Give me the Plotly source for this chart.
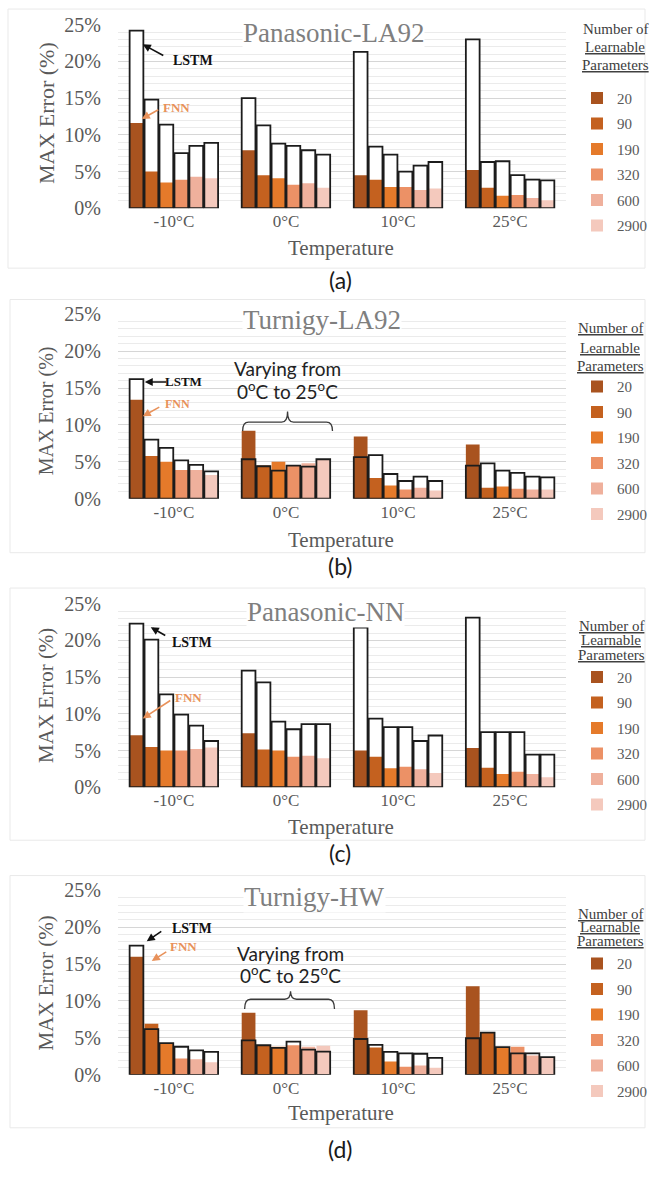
import plotly.graph_objects as go

# ---------------------------------------------------------------------------
# Data: MAX error (%) per ambient temperature (rows) and model size (columns)
# ---------------------------------------------------------------------------
TEMPERATURES = ["-10°C", "0°C", "10°C", "25°C"]
PARAM_COUNTS = ["20", "90", "190", "320", "600", "2900"]
PARAM_COLORS = ["#A9531F", "#C4611F", "#E57A2A", "#EC9166", "#EFB09C", "#F4C9BD"]
Y_TICKS = [0, 5, 10, 15, 20, 25]

PANASONIC_LA92_LSTM = [
    [24.2, 14.8, 11.4, 7.5, 8.5, 8.9],
    [15.0, 11.3, 8.8, 8.5, 7.9, 7.3],
    [21.3, 8.4, 7.3, 5.0, 5.8, 6.3],
    [23.0, 6.3, 6.4, 4.5, 3.9, 3.8],
]
PANASONIC_LA92_FNN = [
    [11.6, 5.0, 3.5, 3.9, 4.3, 4.1],
    [7.9, 4.5, 4.1, 3.2, 3.4, 2.8],
    [4.5, 3.9, 2.9, 2.9, 2.5, 2.7],
    [5.2, 2.8, 1.7, 1.8, 1.4, 1.1],
]

TURNIGY_LA92_LSTM = [
    [16.2, 8.0, 6.9, 5.2, 4.6, 3.7],
    [5.35, 4.4, 3.8, 4.5, 4.35, 5.35],
    [5.65, 5.9, 3.35, 2.4, 3.0, 2.4],
    [4.5, 4.8, 3.8, 3.5, 3.0, 2.9],
]
TURNIGY_LA92_FNN = [
    [13.4, 5.8, 5.0, 3.9, 3.9, 3.2],
    [9.2, 4.5, 5.0, 4.45, 4.8, 5.3],
    [8.45, 2.8, 1.8, 1.25, 1.5, 1.1],
    [7.35, 1.5, 1.65, 1.35, 1.25, 1.25],
]

PANASONIC_NN_LSTM = [
    [22.3, 20.1, 12.65, 9.9, 8.4, 6.3],
    [15.9, 14.3, 8.95, 7.9, 8.6, 8.6],
    [21.75, 9.35, 8.2, 8.2, 6.3, 7.05],
    [23.1, 7.5, 7.5, 7.5, 4.45, 4.45],
]
PANASONIC_NN_FNN = [
    [7.1, 5.5, 5.0, 5.0, 5.2, 5.4],
    [7.35, 5.15, 5.0, 4.15, 4.3, 3.95],
    [5.0, 4.15, 2.6, 2.8, 2.45, 1.95],
    [5.35, 2.65, 1.8, 2.1, 1.8, 1.35],
]

TURNIGY_HW_LSTM = [
    [17.5, 6.2, 4.3, 3.8, 3.3, 3.1],
    [4.65, 4.0, 3.65, 4.5, 3.4, 3.15],
    [4.85, 4.05, 3.1, 2.9, 2.85, 2.3],
    [4.95, 5.7, 3.75, 2.9, 2.9, 2.4],
]
TURNIGY_HW_FNN = [
    [16.0, 6.9, 4.3, 2.2, 2.1, 1.7],
    [8.4, 4.0, 3.8, 4.0, 3.8, 3.95],
    [8.75, 3.7, 1.8, 1.1, 1.25, 0.95],
    [12.0, 5.8, 3.7, 3.8, 2.6, 2.4],
]

PANEL_TITLES = ["Panasonic-LA92", "Turnigy-LA92", "Panasonic-NN", "Turnigy-HW"]
PANEL_TAGS = ["(a)", "(b)", "(c)", "(d)"]

# ---------------------------------------------------------------------------
# Layout helpers (pixel positions -> paper coordinates)
# ---------------------------------------------------------------------------
W, H = 652, 1180
SERIF = "Liberation Serif"
SANS = "Lato"
TICK_GRAY = "#595959"
TITLE_GRAY = "#7F7F7F"


def px(x):
    return x / W


def py(y):
    return 1 - y / H


def label(text, x, y, size, color, family=SERIF, **kw):
    return dict(text=text, x=px(x), y=py(y), xref="paper", yref="paper", showarrow=False,
                xanchor="center", yanchor="middle",
                font=dict(family=family, size=size, color=color), **kw)


def arrow(tail, head, color):
    (tx, ty), (hx, hy) = tail, head
    return dict(text="", x=px(hx), y=py(hy), xref="paper", yref="paper",
                ax=tx - hx, ay=ty - hy, showarrow=True, arrowhead=2,
                arrowsize=1, arrowwidth=1.6, arrowcolor=color)


PLOT_LEFT, PLOT_RIGHT = 118, 567

panels = [
    dict(title=PANEL_TITLES[0], tag=PANEL_TAGS[0], lstm=PANASONIC_LA92_LSTM, fnn=PANASONIC_LA92_FNN,
         y0=201, y25=14, title_xy=(334, 22), ytitle_y=104, ytitle_size=22, xtitle_y=241, tag_y=274,
         legend_title=["Number of", "<u>Learnable</u>", "<u>Parameters</u>"], legend_title_y=[18, 37, 55],
         legend_top=90, legend_title_x=616,
         lstm_label=(193, 50, 14), lstm_arrow=((165, 46), (143, 34)),
         fnn_label=(177, 98, 13), fnn_arrow=((160, 100), (142, 110)),
         frame=(8, -2, 646, 262), varying=None),
    dict(title=PANEL_TITLES[1], tag=PANEL_TAGS[1], lstm=TURNIGY_LA92_LSTM, fnn=TURNIGY_LA92_FNN,
         y0=497, y25=309, title_xy=(322, 315), ytitle_y=407, ytitle_size=20, xtitle_y=539, tag_y=566,
         legend_title=["<u>Number of</u>", "<u>Learnable</u>", "<u>Parameters</u>"], legend_title_y=[323, 343, 362],
         legend_top=384, legend_title_x=611,
         lstm_label=(184, 378, 13), lstm_arrow=((168, 378), (145, 378)),
         fnn_label=(178, 400, 12), fnn_arrow=((161, 403), (143, 413)),
         frame=(10, 294, 646, 552),
         varying=dict(text_y=(364, 387), cx=288, left=243, right=333, bar_y=419, tip_y=408, end_y=428)),
    dict(title=PANEL_TITLES[2], tag=PANEL_TAGS[2], lstm=PANASONIC_NN_LSTM, fnn=PANASONIC_NN_FNN,
         y0=791, y25=604, title_xy=(326, 612), ytitle_y=697, ytitle_size=21, xtitle_y=831, tag_y=858,
         legend_title=["<u>Number of</u>", "<u>Learnable</u>", "<u>Parameters</u>"], legend_title_y=[627, 641, 656],
         legend_top=680, legend_title_x=612,
         lstm_label=(192, 643, 14), lstm_arrow=((167, 637), (151, 628)),
         fnn_label=(189, 700, 13), fnn_arrow=((172, 702), (143, 721)),
         frame=(10, 588, 646, 845), varying=None),
    dict(title=PANEL_TITLES[3], tag=PANEL_TAGS[3], lstm=TURNIGY_HW_LSTM, fnn=TURNIGY_HW_FNN,
         y0=1084, y25=896, title_xy=(315, 903), ytitle_y=990, ytitle_size=21, xtitle_y=1123, tag_y=1160,
         legend_title=["<u>Number of</u>", "<u>Learnable</u>", "<u>Parameters</u>"], legend_title_y=[920, 933, 948],
         legend_top=972, legend_title_x=611,
         lstm_label=(192, 935, 14), lstm_arrow=((163, 937), (147, 948)),
         fnn_label=(184, 953, 13), fnn_arrow=((168, 958), (152, 968)),
         frame=(10, 881, 646, 1138),
         varying=dict(text_y=(960, 982), cx=291, left=245, right=335, bar_y=1007, tip_y=999, end_y=1017)),
]

fig = go.Figure()
annotations = []
shapes = []

for k, pnl in enumerate(panels):
    sfx = "" if k == 0 else str(k + 1)
    xa, ya = "x" + sfx, "y" + sfx
    legend_id = "legend" + sfx

    # grouped bars: white LSTM background, FNN fill, LSTM outline on top
    for j, count in enumerate(PARAM_COUNTS):
        lstm_vals = [row[j] for row in pnl["lstm"]]
        fnn_vals = [row[j] for row in pnl["fnn"]]
        fig.add_trace(go.Bar(
            x=TEMPERATURES, y=lstm_vals, xaxis=xa, yaxis=ya, offsetgroup=str(j),
            marker=dict(color="white", line=dict(width=0)), showlegend=False, hoverinfo="skip"))
        fig.add_trace(go.Bar(
            x=TEMPERATURES, y=fnn_vals, xaxis=xa, yaxis=ya, offsetgroup=str(j),
            marker=dict(color=PARAM_COLORS[j], line=dict(width=0)), name=count,
            legend=legend_id, legendgroup=f"{k}-{count}", showlegend=True,
            hovertemplate="FNN %{x}: %{y}%<extra>" + count + "</extra>"))
        fig.add_trace(go.Bar(
            x=TEMPERATURES, y=lstm_vals, xaxis=xa, yaxis=ya, offsetgroup=str(j),
            marker=dict(color="rgba(0,0,0,0)", line=dict(color="#1c1c1c", width=1.8)),
            showlegend=False, legendgroup=f"{k}-{count}",
            hovertemplate="LSTM %{x}: %{y}%<extra>" + count + "</extra>"))

    fig.update_layout(**{
        "xaxis" + sfx: dict(
            domain=[px(PLOT_LEFT), px(PLOT_RIGHT)], anchor=ya, showgrid=False, zeroline=False,
            showline=False, ticks="", ticklabelstandoff=1, fixedrange=True,
            tickfont=dict(family=SERIF, size=17, color=TICK_GRAY)),
        "yaxis" + sfx: dict(
            domain=[py(pnl["y0"]), py(pnl["y25"])], anchor=xa, range=[0, 25],
            tickmode="array", tickvals=Y_TICKS, ticktext=[f"{v}%" for v in Y_TICKS],
            showline=False, zeroline=False,
            gridcolor="#D6D6D6", gridwidth=1, ticks="", ticklabelstandoff=16, fixedrange=True,
            minor=dict(dtick=1, tick0=0, showgrid=True, gridcolor="#EBEBEB", gridwidth=1),
            tickfont=dict(family=SERIF, size=20, color=TICK_GRAY)),
        legend_id: dict(
            x=px(578), y=py(pnl["legend_top"] - 18), xanchor="left", yanchor="top",
            bgcolor="rgba(0,0,0,0)", borderwidth=0, itemwidth=30, tracegroupgap=3,
            traceorder="grouped", itemclick=False, itemdoubleclick=False,
            font=dict(family=SERIF, size=15, color=TICK_GRAY)),
    })

    # panel frame
    fx0, fy0, fx1, fy1 = pnl["frame"]
    shapes.append(dict(type="rect", xref="paper", yref="paper", x0=px(fx0), x1=px(fx1),
                       y0=py(fy1), y1=py(fy0), line=dict(color="#E9E9E9", width=1),
                       fillcolor="rgba(0,0,0,0)", layer="below"))

    # chart title inside the plot area
    tx, ty = pnl["title_xy"]
    annotations.append(label(pnl["title"], tx, ty, 27, TITLE_GRAY, bgcolor="white", borderpad=0))
    # axis titles and panel tag
    annotations.append(label("MAX Error (%)", 46, pnl["ytitle_y"], pnl["ytitle_size"], TICK_GRAY,
                             textangle=-90))
    annotations.append(label("Temperature", 342, pnl["xtitle_y"], 21, TICK_GRAY))
    annotations.append(label(pnl["tag"], 341, pnl["tag_y"], 23, "#1a1a1a", family=SANS))
    # legend heading
    for line, ly in zip(pnl["legend_title"], pnl["legend_title_y"]):
        annotations.append(label(line, pnl["legend_title_x"], ly, 15, "#404040"))

    # LSTM / FNN call-outs
    lx, ly, ls = pnl["lstm_label"]
    annotations.append(label("<b>LSTM</b>", lx, ly, ls, "#111111"))
    annotations.append(arrow(*pnl["lstm_arrow"], "#111111"))
    fx, fy, fs = pnl["fnn_label"]
    annotations.append(label("<b>FNN</b>", fx, fy, fs, "#E8915A"))
    annotations.append(arrow(*pnl["fnn_arrow"], "#E8915A"))

    # "Varying from 0°C to 25°C" note with curly brace
    v = pnl["varying"]
    if v:
        for txt, vy in zip(["Varying from", "0<sup>o</sup>C to 25<sup>o</sup>C"], v["text_y"]):
            annotations.append(label(txt, v["cx"], vy, 19, "#222222", family=SANS))
        L, R, C = v["left"], v["right"], v["cx"]
        by, ty_, ey = v["bar_y"], v["tip_y"], v["end_y"]
        path = (f"M{px(L)},{py(ey)} Q{px(L)},{py(by)} {px(L + 6)},{py(by)} "
                f"L{px(C - 6)},{py(by)} Q{px(C)},{py(by)} {px(C)},{py(ty_)} "
                f"Q{px(C)},{py(by)} {px(C + 6)},{py(by)} "
                f"L{px(R - 6)},{py(by)} Q{px(R)},{py(by)} {px(R)},{py(ey)}")
        shapes.append(dict(type="path", xref="paper", yref="paper", path=path,
                           line=dict(color="#3a3a3a", width=1.3)))

fig.update_layout(
    width=W, height=H, margin=dict(l=0, r=0, t=0, b=0, pad=0),
    paper_bgcolor="white", plot_bgcolor="white",
    barmode="group", bargap=0.2, bargroupgap=0.08,
    annotations=annotations, shapes=shapes,
    hovermode="closest",
)

fig.write_html("out.html")
